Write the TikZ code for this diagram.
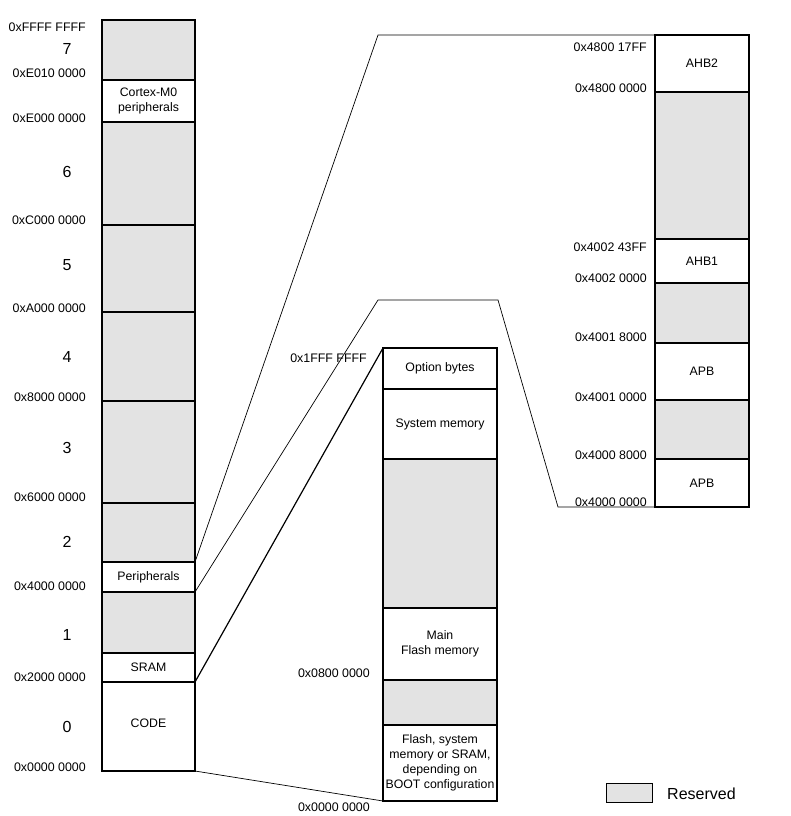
\documentclass[tikz,border=0pt]{standalone}
\usepackage{fontspec}
\setmainfont{Liberation Sans}
\definecolor{resv}{RGB}{227,227,227}
\begin{document}
\begin{tikzpicture}[x=1pt,y=-1pt,
  seg/.style={draw=black,line width=1.5pt,inner sep=0pt,outer sep=0pt,font=\fontsize{12.3}{15}\selectfont,align=center},
  segL/.style={seg,minimum width=93pt},
  segM/.style={seg,minimum width=114pt},
  segR/.style={seg,minimum width=94pt},
  rsv/.style={fill=resv},
  addr/.style={anchor=east,inner sep=0pt,font=\fontsize{12.4}{14}\selectfont},
  num/.style={inner sep=0pt,font=\fontsize{16}{18}\selectfont},
  conn/.style={draw=black,line width=0.7pt},
  connb/.style={draw=black,line width=1.2pt}]
\useasboundingbox (0,0) rectangle (791,816);
% left column
\node[segL,rsv,minimum height=60pt] (l7) at (148.5,50) {};
\node[segL,minimum height=42pt] (lcm) at (148.5,101) {Cortex-M0\\peripherals};
\node[segL,rsv,minimum height=103pt] (l6) at (148.5,173.5) {};
\node[segL,rsv,minimum height=87pt] (l5) at (148.5,268.5) {};
\node[segL,rsv,minimum height=89pt] (l4) at (148.5,356.5) {};
\node[segL,rsv,minimum height=102pt] (l3) at (148.5,452) {};
\node[segL,rsv,minimum height=59pt] (l2) at (148.5,532.5) {};
\node[segL,minimum height=30pt] (lper) at (148.5,577) {Peripherals};
\node[segL,rsv,minimum height=61pt] (l1) at (148.5,622.5) {};
\node[segL,minimum height=29pt] (lsram) at (148.5,667.5) {SRAM};
\node[segL,minimum height=89pt] (lcode) at (148.5,726.5) {\raisebox{6pt}{CODE}};
% left labels
\node[addr] (aFFFF) at (86,27) {0xFFFF FFFF};
\node[addr] (aE010) at (86,73) {0xE010 0000};
\node[addr] (aE000) at (86,118) {0xE000 0000};
\node[addr] (aC000) at (86,220) {0xC000 0000};
\node[addr] (aA000) at (86,308) {0xA000 0000};
\node[addr] (a8000) at (86,397) {0x8000 0000};
\node[addr] (a6000) at (86,497) {0x6000 0000};
\node[addr] (a4000) at (86,586) {0x4000 0000};
\node[addr] (a2000) at (86,677) {0x2000 0000};
\node[addr] (a0000) at (86,767) {0x0000 0000};
\node[num] (n7) at (67,49) {7};
\node[num] (n6) at (67,172) {6};
\node[num] (n5) at (67,265) {5};
\node[num] (n4) at (67,357) {4};
\node[num] (n3) at (67,448) {3};
\node[num] (n2) at (67,542) {2};
\node[num] (n1) at (67,635) {1};
\node[num] (n0) at (67,727) {0};
% middle column
\node[segM,minimum height=41pt] (mob) at (440,368.5) {Option bytes};
\node[segM,minimum height=70pt] (msys) at (440,424) {System memory};
\node[segM,rsv,minimum height=149pt] (mr1) at (440,533.5) {};
\node[segM,minimum height=72pt] (mmain) at (440,644) {Main\\Flash memory};
\node[segM,rsv,minimum height=45pt] (mr2) at (440,702.5) {};
\node[segM,minimum height=76pt] (mboot) at (440,763) {Flash, system\\memory or SRAM,\\depending on\\BOOT configuration};
\node[addr] (m1FFF) at (367,358) {0x1FFF FFFF};
\node[addr] (m0800) at (370,673) {0x0800 0000};
\node[addr] (m0000) at (370,807) {0x0000 0000};
% right column
\node[segR,minimum height=57pt] (rahb2) at (702,63.5) {AHB2};
\node[segR,rsv,minimum height=147pt] (rr1) at (702,165.5) {};
\node[segR,minimum height=44pt] (rahb1) at (702,261) {AHB1};
\node[segR,rsv,minimum height=60pt] (rr2) at (702,313) {};
\node[segR,minimum height=57pt] (rapb1) at (702,371.5) {APB};
\node[segR,rsv,minimum height=59pt] (rr3) at (702,429.5) {};
\node[segR,minimum height=48pt] (rapb0) at (702,483) {APB};
\node[addr] (r481) at (647,47) {0x4800 17FF};
\node[addr] (r480) at (647,88) {0x4800 0000};
\node[addr] (r4024) at (647,247) {0x4002 43FF};
\node[addr] (r4020) at (647,278) {0x4002 0000};
\node[addr] (r4018) at (647,337) {0x4001 8000};
\node[addr] (r4010) at (647,397) {0x4001 0000};
\node[addr] (r4008) at (647,455) {0x4000 8000};
\node[addr] (r4000) at (647,502) {0x4000 0000};
% connectors
\coordinate (c1) at (378,35);
\coordinate (c2) at (378,300);
\coordinate (c3) at (498,300);
\coordinate (c4) at (558,507);
\draw[conn] (lper.north east) -- (c1) -- (rahb2.north west);
\draw[conn] (lper.south east) -- (c2) -- (c3) -- (c4) -- (rapb0.south west);
\draw[connb] (lsram.south east) -- (mob.north west);
\draw[conn] (lcode.south east) -- (mboot.south west);
% legend
\node[draw=black,line width=1pt,fill=resv,minimum width=46pt,minimum height=19pt,inner sep=0pt,outer sep=0pt] (leg) at (629,792.5) {};
\node[anchor=west,inner sep=0pt,font=\fontsize{16}{18}\selectfont] (legt) at (667,794) {Reserved};
\end{tikzpicture}
\end{document}
